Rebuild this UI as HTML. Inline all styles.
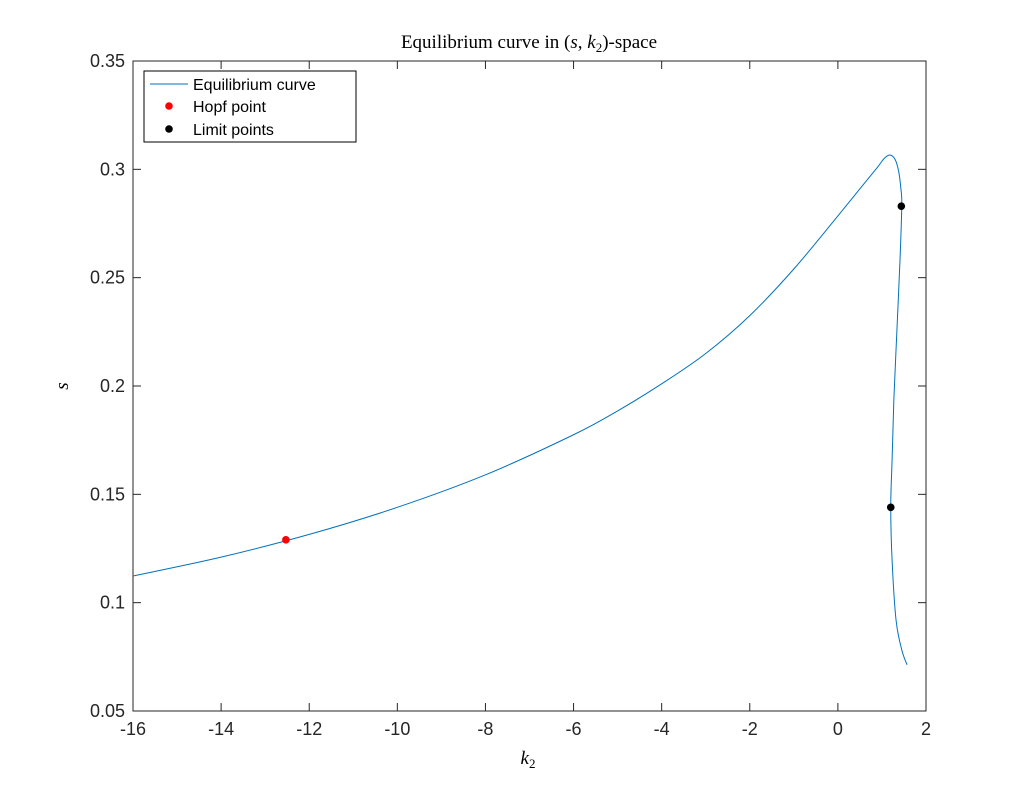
<!DOCTYPE html>
<html><head><meta charset="utf-8"><style>
body{margin:0;background:#fff;}
svg{display:block;font-family:"Liberation Sans",sans-serif;}
</style></head><body>
<svg id="chart" width="1024" height="800" viewBox="0 0 1024 800">
<rect x="0" y="0" width="1024" height="800" fill="#fff"/>
<g id="axes"></g>
<path id="curve" fill="none" stroke="#0072bd" stroke-width="1"/>
<g id="pts"></g>
<text x="529" y="48" text-anchor="middle" font-family="Liberation Serif,serif" font-size="19" fill="#000">Equilibrium curve in (<tspan font-style="italic">s</tspan>, <tspan font-style="italic">k</tspan><tspan font-size="13" dy="4">2</tspan><tspan dy="-4">)-space</tspan></text>
<text x="528" y="764" text-anchor="middle" font-family="Liberation Serif,serif" font-size="19" font-style="italic">k<tspan font-size="13" dy="4" font-style="normal">2</tspan></text>
<text x="68" y="386" text-anchor="middle" font-family="Liberation Serif,serif" font-size="19" font-style="italic" transform="rotate(-90 68 386)">s</text>
<g>
<rect x="144" y="71" width="212" height="71" fill="#fff" stroke="#000" stroke-width="1"/>
<line x1="150" y1="84" x2="188" y2="84" stroke="#0072bd" stroke-width="1"/>
<text x="193" y="90" font-size="16" fill="#000">Equilibrium curve</text>
<circle cx="169" cy="106" r="3.8" fill="#f00"/>
<text x="193" y="112" font-size="16" fill="#000">Hopf point</text>
<circle cx="169" cy="129" r="3.8" fill="#000"/>
<text x="193" y="135" font-size="16" fill="#000">Limit points</text>
</g>
</svg>
<script>
const xTicks=[-16,-14,-12,-10,-8,-6,-4,-2,0,2];
const yTicks=[0.05,0.1,0.15,0.2,0.25,0.3,0.35];
const yTickLabels=["0.05","0.1","0.15","0.2","0.25","0.3","0.35"];
const curveK=[-16,-14,-12,-10,-8,-6,-5,-4,-3,-2,-1,0,0.5,0.9,1.05,1.18,1.30,1.38,1.43,1.45,1.41,1.34,1.27,1.23,1.20,1.23,1.32,1.45,1.57];
const curveS=[0.1123,0.1210,0.1315,0.1440,0.1590,0.1775,0.1885,0.2010,0.2150,0.2325,0.2540,0.2785,0.2910,0.3010,0.3050,0.3066,0.3045,0.2990,0.2910,0.2835,0.2582,0.2258,0.1935,0.1658,0.1442,0.1197,0.0920,0.0782,0.0713];
const hopfK=[-12.53], hopfS=[0.129];
const limitK=[1.44,1.20], limitS=[0.283,0.144];
const X0=133,X1=926,Y0=711,Y1=61;
const xs=k=>X0+(k+16)/18*(X1-X0);
const ys=s=>Y0-(s-0.05)/0.3*(Y0-Y1);
const NS="http://www.w3.org/2000/svg";
const ax=document.getElementById('axes');
function mk(t,a,p){const e=document.createElementNS(NS,t);for(const k in a)e.setAttribute(k,a[k]);(p||ax).appendChild(e);return e;}
const box=mk('rect',{x:X0,y:Y1,width:X1-X0,height:Y0-Y1,fill:'none',stroke:'#262626','stroke-width':1});


xTicks.forEach(v=>{const x=xs(v);
mk('line',{x1:x,y1:Y0,x2:x,y2:Y0-8,stroke:'#262626'});mk('line',{x1:x,y1:Y1,x2:x,y2:Y1+8,stroke:'#262626'});
const t=mk('text',{x:x,y:Y0+24,'text-anchor':'middle','font-size':18,fill:'#262626'});t.textContent=v;

});
yTicks.forEach((v,i)=>{const y=ys(v);
mk('line',{x1:X0,y1:y,x2:X0+8,y2:y,stroke:'#262626'});mk('line',{x1:X1,y1:y,x2:X1-8,y2:y,stroke:'#262626'});
const t=mk('text',{x:X0-8,y:y+6,'text-anchor':'end','font-size':18,fill:'#262626'});t.textContent=yTickLabels[i];

});
const P=curveK.map((k,i)=>[xs(k),ys(curveS[i])]);
let d='M'+P[0][0]+','+P[0][1];
for(let i=0;i<P.length-1;i++){const p0=P[Math.max(i-1,0)],p1=P[i],p2=P[i+1],p3=P[Math.min(i+2,P.length-1)];
d+=` C${p1[0]+(p2[0]-p0[0])/6},${p1[1]+(p2[1]-p0[1])/6} ${p2[0]-(p3[0]-p1[0])/6},${p2[1]-(p3[1]-p1[1])/6} ${p2[0]},${p2[1]}`;}
document.getElementById('curve').setAttribute('d',d);
const pg=document.getElementById('pts');
hopfK.forEach((k,i)=>{const c=mk('circle',{cx:xs(k),cy:ys(hopfS[i]),r:3.8,fill:'#f00'},pg);

});
limitK.forEach((k,i)=>{const c=mk('circle',{cx:xs(k),cy:ys(limitS[i]),r:3.8,fill:'#000'},pg);

});
</script>
</body></html>
